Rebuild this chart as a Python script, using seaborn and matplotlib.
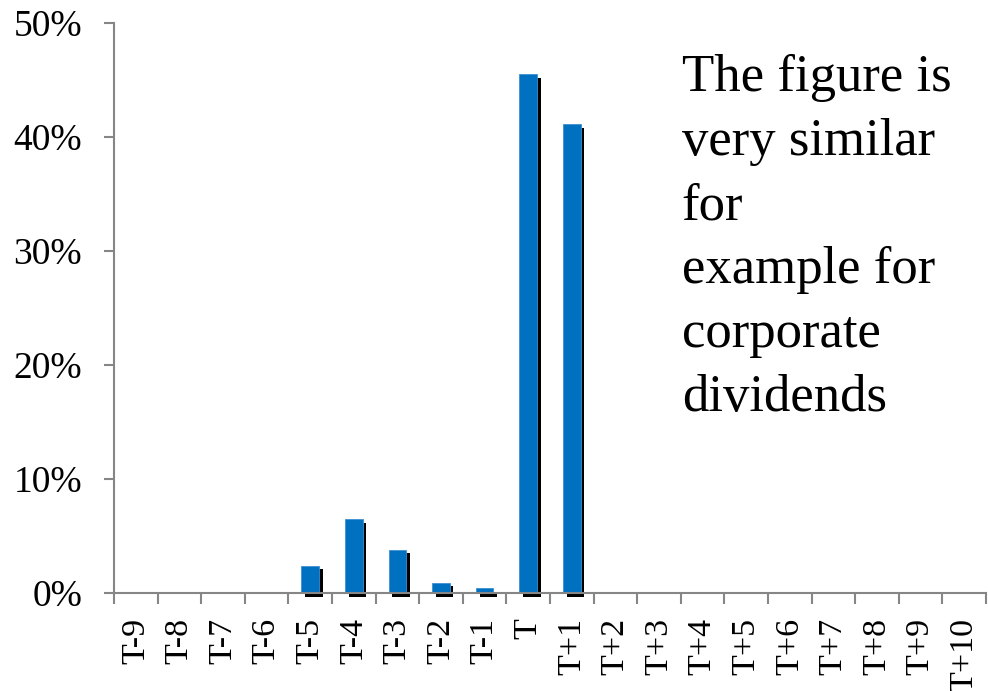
import numpy as np
import pandas as pd
import matplotlib
matplotlib.use('Agg')
import matplotlib.pyplot as plt
import matplotlib.patheffects as pe
from matplotlib.ticker import FixedLocator, PercentFormatter
import seaborn as sns

# Data
periods = ['T-9', 'T-8', 'T-7', 'T-6', 'T-5', 'T-4', 'T-3', 'T-2', 'T-1', 'T',
           'T+1', 'T+2', 'T+3', 'T+4', 'T+5', 'T+6', 'T+7', 'T+8', 'T+9', 'T+10']
shares = [0.0, 0.0, 0.0, 0.0, 2.4, 6.5, 3.8, 0.9, 0.4, 45.5,
          41.1, 0.0, 0.0, 0.0, 0.0, 0.0, 0.0, 0.0, 0.0, 0.0]
note = 'The figure is\nvery similar\nfor\nexample for\ncorporate\ndividends'

df = pd.DataFrame({'period': periods, 'share': shares})

sns.set_style('white')
plt.rcParams['font.family'] = ['Liberation Serif', 'DejaVu Serif']
plt.rcParams['text.color'] = 'black'
plt.rcParams['xtick.labelcolor'] = 'black'
plt.rcParams['ytick.labelcolor'] = 'black'

fig = plt.figure(figsize=(9.88, 6.91), dpi=100)
ax = fig.add_axes([0.1154, 0.1418, 0.8826, 0.8249])

sns.barplot(data=df, x='period', y='share', color='#0070C0', saturation=1,
            width=0.4, ax=ax, order=periods)

# black drop shadow like the original
for bar in ax.patches:
    bar.set_path_effects([pe.SimplePatchShadow(offset=(2.6, -2.6), shadow_rgbFace='black', alpha=1.0),
                          pe.Normal()])
    bar.set_edgecolor('#3d8fd1')
    bar.set_linewidth(0.6)
    bar.set_clip_on(False)

grey = '#868686'
ax.set_ylim(0, 50)
ax.set_xlim(-0.5, len(periods) - 0.5)
ax.yaxis.set_major_locator(FixedLocator([0, 10, 20, 30, 40, 50]))
ax.yaxis.set_major_formatter(PercentFormatter(decimals=0))

ax.tick_params(axis='x', which='major', length=0, pad=18, labelsize=24.5, rotation=90)
ax.xaxis.set_minor_locator(FixedLocator(np.arange(-0.5, len(periods), 1.0)))
ax.tick_params(axis='x', which='minor', length=8, width=1.5, color=grey, direction='out', bottom=True)
ax.tick_params(axis='y', length=7, width=1.5, color=grey, direction='out', left=True, labelsize=27, pad=16)

for side in ['top', 'right']:
    ax.spines[side].set_visible(False)
for side in ['left', 'bottom']:
    ax.spines[side].set_color(grey)
    ax.spines[side].set_linewidth(1.5)

ax.set_xlabel('')
ax.set_ylabel('')

ax.text(0.651, 0.946, note, transform=ax.transAxes, fontsize=38, va='top', ha='left',
        linespacing=1.435)

fig.savefig('out.png', dpi=100)
